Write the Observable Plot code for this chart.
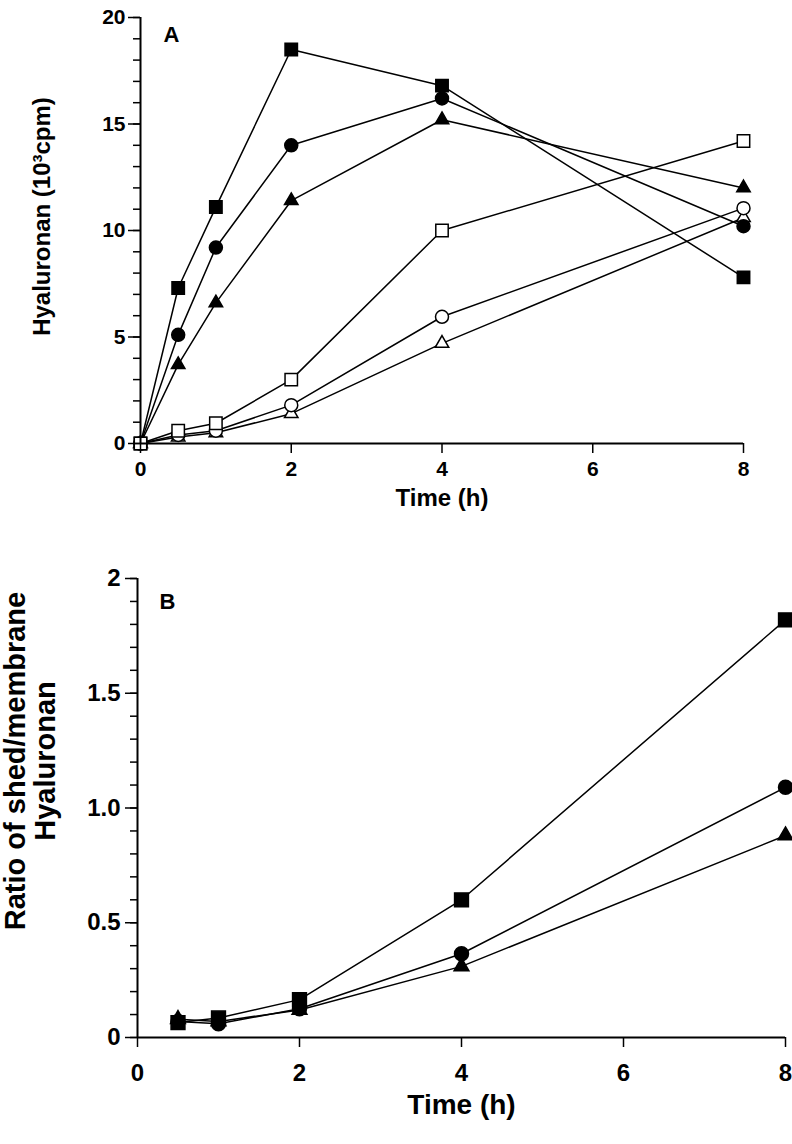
<!DOCTYPE html>
<html><head><meta charset="utf-8">
<script src="https://cdn.jsdelivr.net/npm/d3@7"></script>
<script src="https://cdn.jsdelivr.net/npm/@observablehq/plot@0.6"></script>
<style>
body{margin:0;background:#fff}
#chart svg{display:block;overflow:visible}
</style>
</head><body><div id="chart"></div>
<script>
// ---------- Panel A data ----------
const timesA = [0, 0.5, 1, 2, 4, 8];
const filledSquareA   = [0, 7.3, 11.1, 18.5, 16.8, 7.8];
const filledCircleA   = [0, 5.1, 9.2, 14.0, 16.2, 10.2];
const filledTriangleA = [0, 3.7, 6.6, 11.4, 15.2, 12.0];
const openSquareA     = [0, 0.6, 0.95, 3.0, 10.0, 14.2];
const openCircleA     = [0, 0.4, 0.6, 1.8, 5.95, 11.05];
const openTriangleA   = [0, 0.3, 0.5, 1.4, 4.7, 10.6];
const yTicksA = [0, 5, 10, 15, 20];
const yTickLabelsA = ["0", "5", "10", "15", "20"];
const yMinorTicksA = [0,1,2,3,4,5,6,7,8,9,10,11,12,13,14,15,16,17,18,19,20];
const xTicks = [0, 2, 4, 6, 8];
const xTickLabels = ["0", "2", "4", "6", "8"];

// ---------- Panel B data ----------
const timesB = [0.5, 1, 2, 4, 8];
const filledSquareB   = [0.065, 0.085, 0.165, 0.6, 1.82];
const filledCircleB   = [0.07, 0.06, 0.125, 0.365, 1.09];
const filledTriangleB = [0.08, 0.07, 0.12, 0.31, 0.88];
const yTicksB = [0, 0.5, 1.0, 1.5, 2];
const yTickLabelsB = ["0", "0.5", "1.0", "1.5", "2"];
const yMinorTicksB = [0,0.1,0.2,0.3,0.4,0.5,0.6,0.7,0.8,0.9,1.0,1.1,1.2,1.3,1.4,1.5,1.6,1.7,1.8,1.9,2.0];

const FONT = "'Liberation Sans', Arial, Helvetica, sans-serif";

function rows(times, values, shape, filled, name) {
  return times.map((t, i) => ({t, v: values[i], shape, filled, name}));
}
const dataA = [
  ...rows(timesA, filledSquareA, "square", true, "fs"),
  ...rows(timesA, filledCircleA, "circle", true, "fc"),
  ...rows(timesA, filledTriangleA, "triangle", true, "ft"),
  ...rows(timesA, openSquareA, "square", false, "os"),
  ...rows(timesA, openCircleA, "circle", false, "oc"),
  ...rows(timesA, openTriangleA, "triangle", false, "ot")
];
const dataB = [
  ...rows(timesB, filledSquareB, "square", true, "fs"),
  ...rows(timesB, filledCircleB, "circle", true, "fc"),
  ...rows(timesB, filledTriangleB, "triangle", true, "ft")
];

function markerMarks(data, sizes) {
  const marks = [];
  for (const shape of ["triangle", "circle", "square"]) {
    for (const filled of [true, false]) {
      const sub = data.filter(d => d.shape === shape && d.filled === filled);
      if (!sub.length) continue;
      marks.push(Plot.dot(sub, {
        x: "t", y: "v", symbol: shape, r: sizes[shape],
        fill: filled ? "black" : "white", stroke: "black", strokeWidth: 1.5
      }));
    }
  }
  return marks;
}

const plotA = Plot.plot({
  width: 792, height: 540,
  marginLeft: 140, marginRight: 49, marginTop: 17, marginBottom: 97,
  style: {fontFamily: FONT, color: "black", background: "white"},
  x: {domain: [0, 8]},
  y: {domain: [0, 20]},
  marks: [
    Plot.line(dataA, {x: "t", y: "v", z: "name", stroke: "black", strokeWidth: 1.5}),
    ...markerMarks(dataA, {square: 7, circle: 6.5, triangle: 5}),
    Plot.ruleX([0], {stroke: "black", strokeWidth: 2}),
    Plot.ruleY([0], {stroke: "black", strokeWidth: 2}),
    Plot.axisY(yMinorTicksA, {tickSize: 7, text: null, strokeWidth: 1.5, label: null}),
    Plot.axisY(yTicksA, {tickSize: 12, tickPadding: 3, strokeWidth: 1.5, fontSize: 21, fontWeight: "bold",
      tickFormat: d => yTickLabelsA[yTicksA.indexOf(d)], label: null}),
    Plot.axisX(xTicks, {tickSize: 10, tickPadding: 8, strokeWidth: 1.5, fontSize: 21, fontWeight: "bold",
      tickFormat: d => xTickLabels[xTicks.indexOf(d)], label: null}),
    Plot.text(["A"], {frameAnchor: "top-left", dx: 31, dy: 17, fontSize: 22, fontWeight: "bold", textAnchor: "middle", lineAnchor: "middle"}),
    Plot.text(["Hyaluronan (10³cpm)"], {frameAnchor: "left", rotate: -90, dx: -98, dy: -14, fontSize: 24, fontWeight: "bold", textAnchor: "middle", lineAnchor: "middle"}),
    Plot.text(["Time (h)"], {frameAnchor: "bottom", dy: 55, fontSize: 24, fontWeight: "bold", textAnchor: "middle", lineAnchor: "middle"})
  ]
});

const plotB = Plot.plot({
  width: 792, height: 604,
  marginLeft: 137, marginRight: 7, marginTop: 38, marginBottom: 107,
  style: {fontFamily: FONT, color: "black", background: "white"},
  x: {domain: [0, 8]},
  y: {domain: [0, 2]},
  marks: [
    Plot.line(dataB, {x: "t", y: "v", z: "name", stroke: "black", strokeWidth: 1.5}),
    ...markerMarks(dataB, {square: 7.8, circle: 7, triangle: 5.5}),
    Plot.ruleX([0], {stroke: "black", strokeWidth: 2}),
    Plot.ruleY([0], {stroke: "black", strokeWidth: 2}),
    Plot.axisY(yMinorTicksB, {tickSize: 7, text: null, strokeWidth: 1.5, label: null}),
    Plot.axisY(yTicksB, {tickSize: 12, tickPadding: 5, strokeWidth: 1.5, fontSize: 24, fontWeight: "bold",
      tickFormat: d => yTickLabelsB[yTicksB.indexOf(d)], label: null}),
    Plot.axisX(xTicks, {tickSize: 10, tickPadding: 16, strokeWidth: 1.5, fontSize: 24, fontWeight: "bold",
      tickFormat: d => xTickLabels[xTicks.indexOf(d)], label: null}),
    Plot.text(["B"], {frameAnchor: "top-left", dx: 30, dy: 23, fontSize: 22, fontWeight: "bold", textAnchor: "middle", lineAnchor: "middle"}),
    Plot.text(["Ratio of shed/membrane\nHyaluronan"], {frameAnchor: "left", rotate: -90, dx: -107, dy: -47, fontSize: 29, lineHeight: 1.05, fontWeight: "bold", textAnchor: "middle", lineAnchor: "middle"}),
    Plot.text(["Time (h)"], {frameAnchor: "bottom", dy: 68, fontSize: 28, fontWeight: "bold", textAnchor: "middle", lineAnchor: "middle"})
  ]
});

document.getElementById("chart").append(plotA, plotB);
</script>
</body></html>
